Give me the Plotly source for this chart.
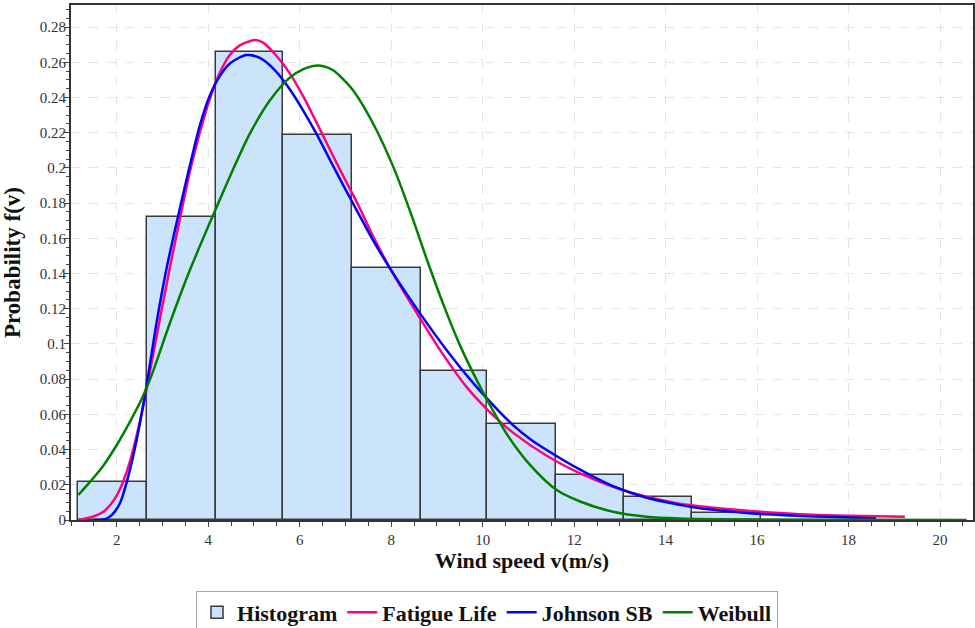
import plotly.graph_objects as go

# ---- data ----
bin_edges = [1.16, 2.67, 4.16, 5.64, 7.15, 8.66, 10.10, 11.61, 13.08, 14.58, 16.08]
bin_heights = [0.0218, 0.172, 0.266, 0.219, 0.143, 0.0847, 0.0545, 0.0256, 0.0132, 0.0042]

fatigue_x = [1.16, 1.49, 1.71, 1.93, 2.07, 2.22, 2.36, 2.51, 2.62, 2.73, 2.95, 3.17, 3.38, 3.60,
             3.82, 4.04, 4.26, 4.48, 4.70, 5.02, 5.20, 5.50, 5.79, 6.08, 6.37, 6.66, 6.95, 7.25,
             7.58, 8.05, 8.63, 9.07, 9.65, 10.23, 10.67, 11.40, 12.13, 12.85, 13.58, 14.31,
             15.00, 15.48, 16.21, 16.94, 17.96, 19.23]
fatigue_y = [0.0, 0.002, 0.0047, 0.011, 0.0175, 0.0275, 0.040, 0.0565, 0.070, 0.085, 0.115, 0.1445,
             0.171, 0.198, 0.2205, 0.2395, 0.2545, 0.2645, 0.2698, 0.2727, 0.2712, 0.2635, 0.2535,
             0.2405, 0.2257, 0.2105, 0.1955, 0.1805, 0.1625, 0.1395, 0.1146, 0.0965, 0.0755, 0.0595,
             0.0495, 0.0365, 0.0265, 0.0189, 0.0132, 0.0093, 0.0071, 0.0059, 0.0044, 0.0033,
             0.0024, 0.0018]

johnson_x = [1.49, 1.74, 1.89, 2.07, 2.18, 2.33, 2.47, 2.58, 2.69, 2.87, 3.09, 3.31, 3.49, 3.60,
             3.82, 4.04, 4.26, 4.48, 4.84, 5.13, 5.46, 5.79, 6.08, 6.37, 6.66, 6.95, 7.25, 7.58,
             8.05, 8.63, 9.21, 9.79, 10.38, 10.67, 11.05, 11.40, 12.13, 12.85, 13.58, 14.31,
             14.75, 15.48, 16.21, 16.94, 17.52, 18.60]
johnson_y = [0.0, 0.0005, 0.0028, 0.0095, 0.018, 0.033, 0.050, 0.0655, 0.0825, 0.112, 0.143,
             0.169, 0.1895, 0.2015, 0.2245, 0.2415, 0.2525, 0.2595, 0.2642, 0.2625, 0.2555, 0.2445,
             0.2325, 0.2192, 0.2047, 0.1903, 0.1758, 0.1600, 0.1398, 0.1174, 0.0966, 0.0779, 0.0612,
             0.0538, 0.0458, 0.0398, 0.0286, 0.0192, 0.0126, 0.0086, 0.0067, 0.0047, 0.0032,
             0.0023, 0.0018, 0.0008]

weibull_x = [1.16, 1.42, 1.71, 2.00, 2.29, 2.55, 2.76, 3.17, 3.60, 4.07, 4.48, 4.91, 5.35, 5.79,
             6.08, 6.30, 6.52, 6.73, 7.14, 7.61, 8.08, 8.48, 8.78, 9.14, 9.50, 9.87, 10.23, 10.56,
             11.03, 11.62, 12.13, 12.85, 13.58, 14.31, 16.00, 20.58]
weibull_y = [0.0142, 0.0218, 0.031, 0.0426, 0.0559, 0.069, 0.082, 0.1125, 0.142, 0.171, 0.1955,
             0.2195, 0.2385, 0.2515, 0.2562, 0.2580, 0.2578, 0.2555, 0.2450, 0.2250, 0.1985,
             0.1705, 0.1480, 0.1225, 0.0995, 0.0795, 0.0620, 0.0475, 0.0315, 0.0170, 0.0105,
             0.0047, 0.0019, 0.0009, 0.0003, 0.0]

x_title = "Wind speed v(m/s)"
y_title = "Probability f(v)"

bin_centers = [(a + b) / 2 for a, b in zip(bin_edges[:-1], bin_edges[1:])]
bin_widths = [b - a for a, b in zip(bin_edges[:-1], bin_edges[1:])]

FONT = "Liberation Serif"

fig = go.Figure()
fig.add_trace(go.Bar(
    x=bin_centers, y=bin_heights, width=bin_widths, name="Histogram",
    marker=dict(color="#cce4fb", line=dict(color="#3a3a3a", width=1.5)),
))
fig.add_trace(go.Scatter(x=fatigue_x, y=fatigue_y, mode="lines", name="Fatigue Life",
                         line=dict(color="#ff0080", width=2.5, shape="spline", smoothing=0.8)))
fig.add_trace(go.Scatter(x=johnson_x, y=johnson_y, mode="lines", name="Johnson SB",
                         line=dict(color="#0000ff", width=2.5, shape="spline", smoothing=0.8)))
fig.add_trace(go.Scatter(x=weibull_x, y=weibull_y, mode="lines", name="Weibull",
                         line=dict(color="#008000", width=2.5, shape="spline", smoothing=0.8)))

axis_common = dict(
    showline=True, linecolor="#333333", linewidth=2, mirror=True,
    ticks="outside", ticklen=5, tickcolor="#444444", tickwidth=1,
    showgrid=True, gridcolor="#e4e4e4", griddash="dash", gridwidth=1,
    zeroline=False, automargin=False,
    tickfont=dict(family=FONT, size=15, color="#333333"),
)

fig.update_xaxes(
    range=[1.0, 20.72], tick0=0, dtick=2,
    minor=dict(dtick=0.5, ticks="outside", ticklen=4, tickcolor="#444444", showgrid=False),
    title=dict(text=x_title, standoff=6,
               font=dict(family=FONT, size=22, color="#111111", weight="bold")),
    **axis_common,
)
fig.update_yaxes(
    range=[0, 0.2926], tick0=0, dtick=0.02,
    minor=dict(dtick=0.005, ticks="outside", ticklen=3, tickcolor="#444444", showgrid=False),
    ticklabelstandoff=-5,
    title=dict(text=y_title, standoff=14,
               font=dict(family=FONT, size=23, color="#111111", weight="bold")),
    **axis_common,
)

fig.update_layout(
    width=975, height=628,
    margin=dict(l=71, r=2, t=5, b=108, autoexpand=False),
    plot_bgcolor="white", paper_bgcolor="white",
    bargap=0,
    font=dict(family=FONT, color="#222222"),
    legend=dict(
        orientation="h", x=0.1386, xanchor="left", y=-0.137, yanchor="top",
        bordercolor="#a8a8a8", borderwidth=1, bgcolor="white",
        font=dict(family=FONT, size=22, color="#111111", weight="bold"),
        itemwidth=30, tracegroupgap=0,
    ),
)

fig.write_html("out.html")
